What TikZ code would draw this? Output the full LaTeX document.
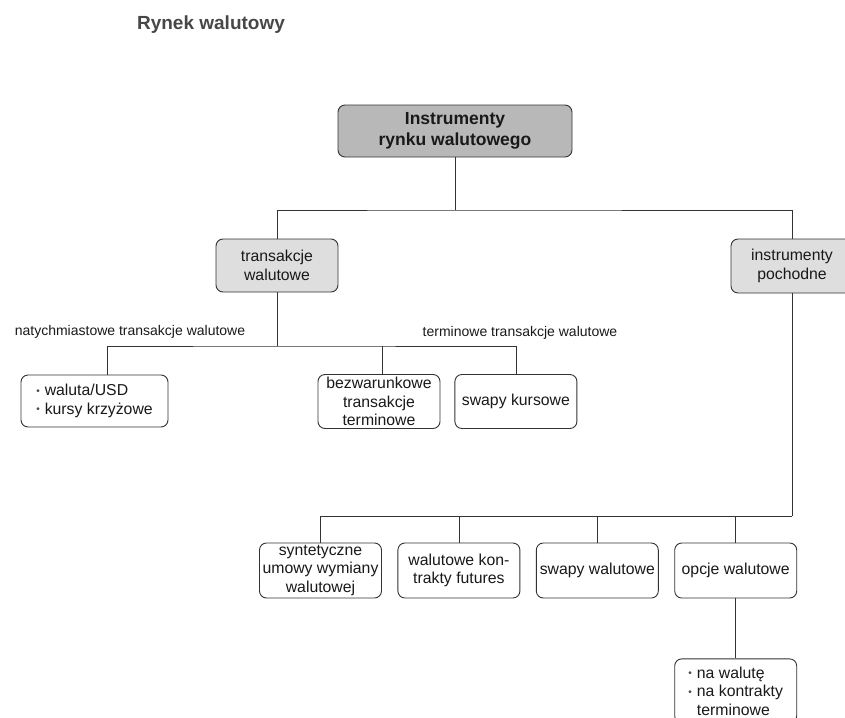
\documentclass[tikz,border=0pt]{standalone}
\usepackage{fontspec}
\setmainfont{Liberation Sans}
\usetikzlibrary{positioning}

\definecolor{ciemny}{gray}{0.72}
\definecolor{jasny}{gray}{0.87}
\definecolor{linia}{gray}{0.2}

\tikzset{
  box/.style={draw=linia, fill=white, rounded corners=7pt, line width=0.9pt, align=center, inner sep=2pt,
    minimum width=122pt, minimum height=54pt, font=\fontsize{15.8}{18.5}\selectfont, text=black!90},
  glowny/.style={box, fill=ciemny, minimum width=234pt, minimum height=52pt, font=\bfseries\fontsize{17.5}{21}\selectfont},
  grupa/.style={box, fill=jasny},
  etykieta/.style={font=\fontsize{14}{17}\selectfont, inner sep=0pt, text=black!90},
  lacznik/.style={draw=linia, line width=0.8pt}
}
\newcommand{\pkt}{\raisebox{1.5pt}{\fontsize{10}{10}\selectfont\color{black!70}\textbullet}\hspace{5pt}}

\begin{document}
\begin{tikzpicture}[x=1pt, y=-1pt]
            \useasboundingbox (0,0) rectangle (845,717);
            \node [font=\bfseries\fontsize{19}{22}\selectfont, text=black!72] (tytul) at (211,25) {Rynek walutowy};
            \node [glowny] (instr) at (455,131) {Instrumenty\\rynku walutowego};
            \node [grupa, minimum height=53pt] (trans) at (277,265.5) {transakcje\\walutowe};
            \node [grupa] (poch) at (792,266) {instrumenty\\pochodne};
            \node [box, align=left, minimum width=147pt, minimum height=52pt] (kasowe) at (94.5,401) {\pkt waluta/USD\\\pkt kursy krzyżowe};
            \node [box] (bez) at (379,401.5) {bezwarunkowe\\transakcje\\terminowe};
            \node [box, right = 14pt of bez] (swapyk) {swapy kursowe};
            \node [etykieta] (natych) at (130,332) {natychmiastowe transakcje walutowe};
            \node [etykieta] (termin) at (520,333) {terminowe transakcje walutowe};
            \node [box, minimum height=55pt] (synt) at (320.5,570.5) {syntetyczne\\umowy wymiany\\walutowej};
            \node [box, minimum height=55pt, right = 15.5pt of synt] (futures) {walutowe kon-\\trakty futures};
            \node [box, minimum height=55pt, right = 15.5pt of futures] (swapyw) {swapy walutowe};
            \node [box, minimum height=55pt, right = 15.5pt of swapyw] (opcje) {opcje walutowe};
            \node [box, align=left, minimum height=64pt, below = 60pt of opcje] (rodzaje) {\pkt na walutę\\\pkt na kontrakty\\\hphantom{\pkt}terminowe};
            \coordinate (szyna1) at (455,210);
            \coordinate (szyna2) at (277,346);
            \coordinate (szyna3) at (792,516);
            \draw [lacznik] (instr) -- (szyna1);
            \draw [lacznik] (trans.north) |- (szyna1) -| (poch.north);
            \draw [lacznik] (trans) -- (szyna2);
            \draw [lacznik] ([xshift=12.5pt]kasowe.north) |- (szyna2) -| (swapyk.north);
            \draw [lacznik] ([xshift=3pt]bez.north) -- ([xshift=3pt]bez.north |- szyna2);
            \draw [lacznik] (poch) -- (szyna3);
            \draw [lacznik] (synt.north) |- (szyna3);
            \draw [lacznik] (futures.north) -- (futures.north |- szyna3);
            \draw [lacznik] (swapyw.north) -- (swapyw.north |- szyna3);
            \draw [lacznik] (opcje.north) -- (opcje.north |- szyna3);
            \draw [lacznik] (opcje) -- (rodzaje);
        \end{tikzpicture}
\end{document}
